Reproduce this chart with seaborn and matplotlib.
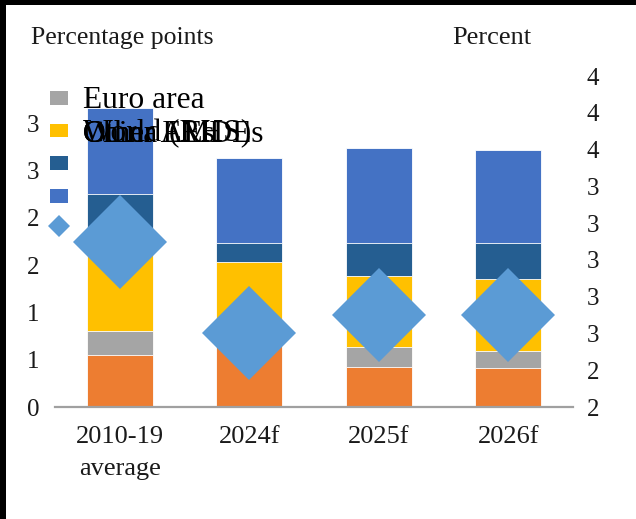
import numpy as np
import pandas as pd
import matplotlib
matplotlib.use("Agg")
import matplotlib.pyplot as plt
from matplotlib.patches import Patch, Rectangle
from matplotlib.lines import Line2D
from matplotlib.ticker import FixedLocator, FuncFormatter
import seaborn as sns

# ---- data -------------------------------------------------------------
categories = ["2010-19\naverage", "2024f", "2025f", "2026f"]

united_states = [0.55, 0.66, 0.42, 0.41]
euro_area = [0.25, 0.10, 0.21, 0.18]
china = [1.02, 0.77, 0.75, 0.76]
other_aes = [0.43, 0.20, 0.35, 0.38]
other_emdes = [0.91, 0.90, 1.01, 0.99]
world_rhs = [3.1, 2.6, 2.7, 2.7]

series_names = ["United States", "Euro area", "China", "Other AEs", "Other EMDEs"]
series_values = [united_states, euro_area, china, other_aes, other_emdes]
series_colors = ["#ED7D31", "#A5A5A5", "#FFC000", "#255E91", "#4472C4"]
world_label = "World (RHS)"
world_color = "#5B9BD5"

left_ticks = [0.0, 0.5, 1.0, 1.5, 2.0, 2.5, 3.0]
right_ticks = [2.2, 2.4, 2.6, 2.8, 3.0, 3.2, 3.4, 3.6, 3.8, 4.0]

left_title = "Percentage points"
right_title = "Percent"

# ---- style ------------------------------------------------------------
sns.set_theme(style="white")
plt.rcParams["font.family"] = ["Liberation Serif", "DejaVu Serif"]
text_color = "#1a1a1a"

W, H = 636, 519
fig = plt.figure(figsize=(W / 100, H / 100), dpi=100)
ax = fig.add_axes([55 / W, 1 - 407 / H, (573 - 55) / W, (407 - 76) / H])

# ---- stacked bars (cumulative layers, tallest first) -------------------
df = pd.DataFrame({n: v for n, v in zip(series_names, series_values)})
cum = df.cumsum(axis=1)
cum["period"] = categories

for name, color in reversed(list(zip(series_names, series_colors))):
    sns.barplot(data=cum, x="period", y=name, color=color, width=0.51,
                saturation=1, errorbar=None, edgecolor="white",
                linewidth=0.6, ax=ax)

ax.set_xlim(-0.5, 3.5)
ax.set_ylim(0, 3.5)
ax.set_xlabel("")
ax.set_ylabel("")

def half_up(v, _pos):
    return f"{int(np.floor(v + 0.5 + 1e-9))}"

ax.yaxis.set_major_locator(FixedLocator(left_ticks))
ax.yaxis.set_major_formatter(FuncFormatter(half_up))
ax.set_xticks(range(len(categories)))
ax.set_xticklabels(categories, fontsize=19, linespacing=1.55, color=text_color)
ax.tick_params(axis="x", length=0, pad=14)
ax.tick_params(axis="y", length=0, pad=11, labelsize=18, labelcolor=text_color)

for side in ["top", "right", "left"]:
    ax.spines[side].set_visible(False)
ax.spines["bottom"].set_color("#A0A0A0")
ax.spines["bottom"].set_linewidth(1.6)

# ---- world growth diamonds on the right axis ---------------------------
ax2 = ax.twinx()
world_df = pd.DataFrame({"period": categories, "world": world_rhs})
sns.pointplot(data=world_df, x="period", y="world", color=world_color,
              markers="D", linestyles="none", markersize=48,
              markeredgewidth=0, errorbar=None, ax=ax2)
ax2.set_xlim(-0.5, 3.5)
ax2.set_ylim(2.2, 4.0)
ax2.set_xlabel("")
ax2.set_ylabel("")
ax2.yaxis.set_major_locator(FixedLocator(right_ticks))
ax2.yaxis.set_major_formatter(FuncFormatter(half_up))
ax2.tick_params(axis="y", length=0, pad=10, labelsize=18, labelcolor=text_color)
for side in ["top", "right", "left", "bottom"]:
    ax2.spines[side].set_visible(False)

# ---- axis titles --------------------------------------------------------
fig.text(31 / W, 1 - 38 / H, left_title, ha="left", va="center",
         fontsize=18.5, color=text_color)
fig.text(452 / W, 1 - 38 / H, right_title, ha="left", va="center",
         fontsize=19, color=text_color)

# ---- legend keys (orange entry sits off the top) -----------------------
handles = [Patch(facecolor=c, edgecolor="none") for c in series_colors[1:]]
handles.append(Line2D([], [], linestyle="none", marker="D", markersize=11,
                      markerfacecolor=world_color, markeredgewidth=0))
fs_px = 8.0
fig.legend(handles=handles, labels=[""] * len(handles),
           loc="upper left", bbox_to_anchor=(50 / W, 1 - 91 / H),
           bbox_transform=fig.transFigure, frameon=False,
           prop={"size": fs_px * 0.72}, handlelength=18 / fs_px,
           handleheight=18 / fs_px, labelspacing=(37 - 18) / fs_px,
           handletextpad=0, borderpad=0, borderaxespad=0)

# legend labels: the first on its own row, the rest stacked on one row
legend_fs = 22.7
fig.text(83 / W, 1 - 101 / H, series_names[1], ha="left", va="center",
         fontsize=legend_fs, color="black")
for lbl in series_names[2:] + [world_label]:
    fig.text(83 / W, 1 - 134 / H, lbl, ha="left", va="center",
             fontsize=legend_fs, color="black")

# ---- frame edges -------------------------------------------------------
fig.add_artist(Rectangle((0, 0), 6 / W, 1, transform=fig.transFigure,
                         facecolor="black", edgecolor="none", zorder=20))
fig.add_artist(Rectangle((0, 1 - 5 / H), 1, 5 / H, transform=fig.transFigure,
                         facecolor="black", edgecolor="none", zorder=20))

fig.savefig("out.png", dpi=100)
